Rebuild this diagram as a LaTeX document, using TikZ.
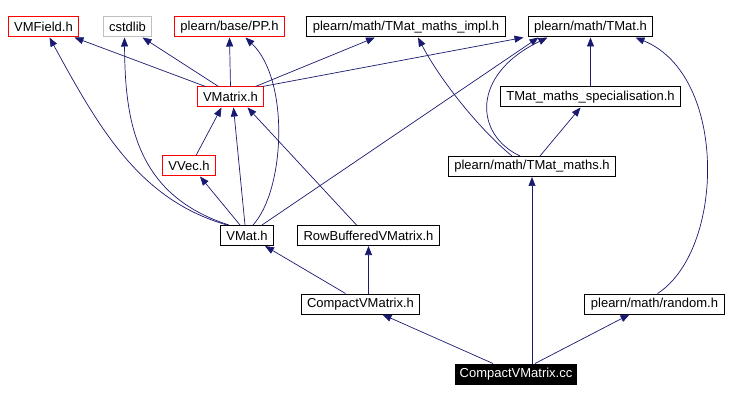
\documentclass[tikz,border=0pt]{standalone}
\usepackage{fontspec}
\setmainfont{Liberation Sans}
\usetikzlibrary{arrows.meta}
\definecolor{edgeblue}{RGB}{25, 25, 112}
\definecolor{boxred}{RGB}{255, 0, 0}
\definecolor{boxgray}{RGB}{191, 191, 191}

\begin{document}
\begin{tikzpicture}[
        x = 1pt, y = -1pt,
        file/.style = {draw, line width=1pt, minimum height=20pt, inner xsep=6pt, inner ysep=0pt, font=\fontsize{13}{15}\selectfont},
        redfile/.style = {file, draw=boxred},
        sysfile/.style = {file, draw=boxgray},
        mainfile/.style = {file, fill=black, text=white, inner xsep=4pt},
        arrow/.style = {draw=edgeblue, line width=0.7pt, -{Stealth[length=9pt, width=7pt, inset=0pt]}},
    ]
        \useasboundingbox (0,0) rectangle (750,401);
        % top row
        \node[redfile] (vmfield) at (43.5,27) {VMField.h};
        \node[sysfile] (cstdlib) at (127.5,27) {cstdlib};
        \node[redfile] (pp) at (229.5,27) {plearn/base/PP.h};
        \node[file] (impl) at (406,27) {plearn/math/TMat\_maths\_impl.h};
        \node[file] (tmat) at (590.5,27) {plearn/math/TMat.h};
        % second row
        \node[redfile] (vmatrix) at (230.5,97) {VMatrix.h};
        \node[file] (spec) at (590.5,97) {TMat\_maths\_specialisation.h};
        % third row
        \node[redfile] (vvec) at (189,166) {VVec.h};
        \node[file] (tmaths) at (532,166.5) {plearn/math/TMat\_maths.h};
        % fourth row
        \node[file] (vmat) at (247,235.5) {VMat.h};
        \node[file] (rowbuf) at (368.5,235.5) {RowBufferedVMatrix.h};
        % fifth row
        \node[file] (cvmh) at (360.5,304) {CompactVMatrix.h};
        \node[file] (random) at (654.5,304) {plearn/math/random.h};
        % source
        \node[mainfile] (cc) at (516,374) {CompactVMatrix.cc};

        \draw[arrow] ([xshift=-25pt]vmatrix.north) -- ([xshift=31pt]vmfield.south);
        \draw[arrow] ([xshift=-12pt]vmatrix.north) -- ([xshift=15pt]cstdlib.south);
        \draw[arrow] (vmatrix.north) -- (pp.south);
        \draw[arrow] ([xshift=25pt]vmatrix.north) -- ([xshift=-31pt]impl.south);
        \draw[arrow] ([xshift=32pt]vmatrix.north) -- ([xshift=-67pt]tmat.south);
        \draw[arrow] ([xshift=7pt]vvec.north) -- ([xshift=-9pt]vmatrix.south);
        \draw[arrow] ([xshift=-7pt]vmat.north) -- ([xshift=11pt]vvec.south);
        \draw[arrow] ([xshift=-2pt]vmat.north) -- ([xshift=3pt]vmatrix.south);
        \draw[arrow] ([xshift=-20pt]vmat.north) .. controls (140,200) and (100,130) .. ([xshift=6pt]vmfield.south);
        \draw[arrow] ([xshift=-18pt]vmat.north) .. controls (135,195) and (125,120) .. ([xshift=-3pt]cstdlib.south);
        \draw[arrow] ([xshift=6pt]vmat.north) .. controls (285,190) and (290,80) .. ([xshift=16pt]pp.south);
        \draw[arrow] ([xshift=15pt]vmat.north) -- ([xshift=-52pt]tmat.south);
        \draw[arrow] ([xshift=-12pt]rowbuf.north) -- ([xshift=17pt]vmatrix.south);
        \draw[arrow] ([xshift=-20pt]tmaths.north) .. controls (480,130) and (440,80) .. ([xshift=12pt]impl.south);
        \draw[arrow] ([xshift=-12pt]tmaths.north) .. controls (475,135) and (470,75) .. ([xshift=-43pt]tmat.south);
        \draw[arrow] ([xshift=8pt]tmaths.north) -- ([xshift=-10pt]spec.south);
        \draw[arrow] (spec.north) -- (tmat.south);
        \draw[arrow] ([xshift=3pt]random.north) .. controls (725,250) and (728,75) .. ([xshift=45pt]tmat.south);
        \draw[arrow] ([xshift=-23pt]cc.north) -- ([xshift=22pt]cvmh.south);
        \draw[arrow] ([xshift=16pt]cc.north) -- (tmaths.south);
        \draw[arrow] ([xshift=19pt]cc.north) -- ([xshift=-25pt]random.south);
        \draw[arrow] ([xshift=-15pt]cvmh.north) -- ([xshift=18pt]vmat.south);
        \draw[arrow] ([xshift=8pt]cvmh.north) -- (rowbuf.south);
    \end{tikzpicture}
\end{document}
